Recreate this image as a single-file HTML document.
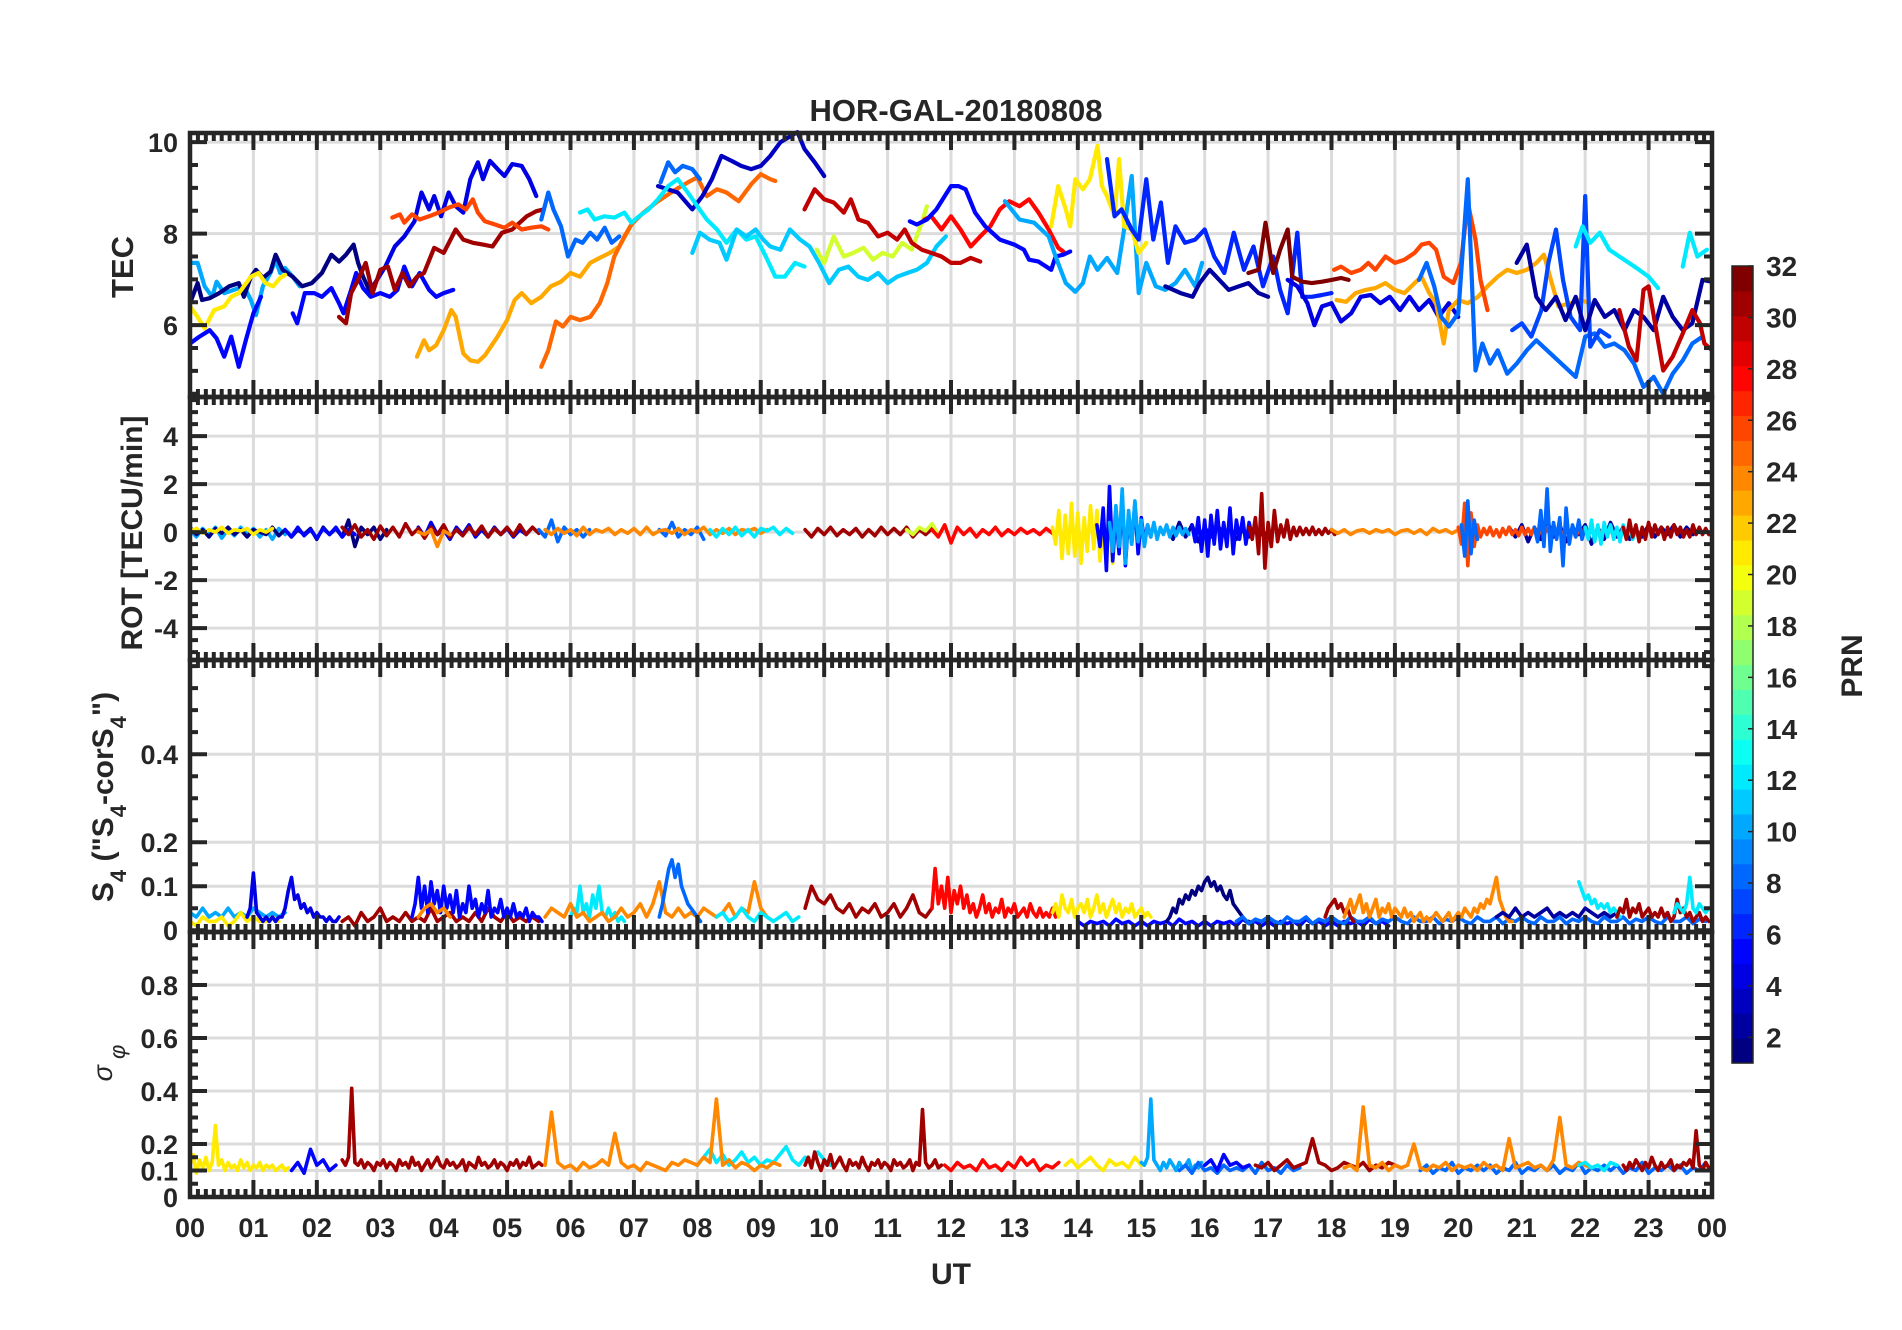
<!DOCTYPE html>
<html><head><meta charset="utf-8"><title>HOR-GAL-20180808</title>
<style>html,body{margin:0;padding:0;background:#fff;}svg{display:block;}text{font-family:"Liberation Sans",sans-serif;fill:#262626;}</style>
</head><body>
<svg id="fig" xmlns="http://www.w3.org/2000/svg" width="1902" height="1330" viewBox="0 0 1902 1330">
<rect x="0" y="0" width="1902" height="1330" fill="#fff"/>
<text x="956" y="121" font-size="31" font-weight="bold" text-anchor="middle">HOR-GAL-20180808</text>
<text x="951" y="1284" font-size="30" font-weight="bold" text-anchor="middle">UT</text>
<text transform="translate(133,267) rotate(-90)" font-size="31" font-weight="bold" text-anchor="middle">TEC</text>
<text transform="translate(142,533) rotate(-90)" font-size="30" font-weight="bold" text-anchor="middle">ROT [TECU/min]</text>
<text transform="translate(113,797) rotate(-90)" font-size="30" font-weight="bold" text-anchor="middle">S<tspan font-size="22" baseline-shift="sub">4</tspan> ("S<tspan font-size="22" baseline-shift="sub">4</tspan>-corS<tspan font-size="22" baseline-shift="sub">4</tspan>")</text>
<text transform="translate(112,1063) rotate(-90)" font-size="27" font-style="italic" text-anchor="middle">σ<tspan font-size="22" baseline-shift="sub"> φ</tspan></text>
<text transform="translate(1862,666) rotate(-90)" font-size="30" font-weight="bold" text-anchor="middle">PRN</text>
</svg>
<script>
// ---------- axis geometry ----------
const X0 = 190, X1 = 1712;
const hourLabels = ["00","01","02","03","04","05","06","07","08","09","10","11","12","13","14","15","16","17","18","19","20","21","22","23","00"];
const tecTicks = [6, 8, 10];
const rotTicks = [-4, -2, 0, 2, 4];
const s4Ticks = [0, 0.1, 0.2, 0.4];
const sigTicks = [0, 0.1, 0.2, 0.4, 0.6, 0.8];
const cbTicks = [2,4,6,8,10,12,14,16,18,20,22,24,26,28,30,32];

// ---------- TEC data (hours, TECU) ----------
const tec1_t=[0,0.12,0.23,0.35,0.42,0.54,0.69,0.85,0.96,1.04,1.15,1.27,1.35,1.42,1.5,1.62,1.73];
const tec1_v=[7.36,7.36,6.85,6.62,6.95,6.70,6.77,6.85,6.55,6.22,6.85,7.14,7.43,7.14,7.25,7.06,6.85];
const tec2_t=[0,0.12,0.19,0.31,0.46,0.62,0.77,0.85,0.96,1.04,1.15,1.27,1.35,1.46,1.62,1.77,1.92,2.08,2.23,2.35,2.46,2.58,2.65,2.73,2.85];
const tec2_v=[6.48,6.92,6.55,6.59,6.70,6.85,6.92,6.62,7.06,7.21,7.03,7.17,7.54,7.21,7.06,6.85,6.92,7.14,7.54,7.39,7.54,7.76,7.36,7.06,6.70];
const tec3_t=[2.85,3.08,3.23,3.38,3.54,3.65,3.77,3.85,3.96,4.08,4.19,4.31,4.42,4.54,4.62,4.73,4.85,4.96,5.08,5.23,5.35,5.46];
const tec3_v=[6.77,7.28,7.72,7.94,8.27,8.90,8.53,8.82,8.38,8.90,8.60,8.46,9.19,9.56,9.19,9.59,9.41,9.26,9.52,9.48,9.19,8.82];
const tec4a_t=[0,0.15,0.31,0.42,0.54,0.65,0.77,0.88,1.0,1.12];
const tec4a_v=[5.60,5.75,5.89,5.71,5.31,5.75,5.09,5.67,6.26,6.62];
const tec4b_t=[1.62,1.69,1.81,1.96,2.08,2.23,2.35,2.42,2.54,2.62,2.73,2.85,3.0,3.15,3.27,3.38,3.5,3.62,3.77,3.88,4.0,4.15];
const tec4b_v=[6.26,6.04,6.70,6.70,6.62,6.81,6.48,6.26,6.77,7.14,6.81,6.62,6.70,6.62,6.77,7.28,6.85,7.14,6.77,6.62,6.70,6.77];
const tec5_t=[0,0.12,0.23,0.38,0.54,0.65,0.77,0.85,0.96,1.08,1.19,1.31,1.42,1.5];
const tec5_v=[6.41,6.18,5.93,6.33,6.41,6.62,6.70,6.85,7.06,7.14,6.92,6.85,7.03,7.10];
const tec6_t=[2.35,2.46,2.54,2.65,2.77,2.88,3.0,3.12,3.23,3.35,3.46,3.58,3.69,3.85,4.0,4.19,4.31,4.46,4.62,4.77,4.92,5.08,5.31,5.46,5.58];
const tec6_v=[6.18,6.04,6.70,6.99,7.36,6.70,7.21,7.28,6.77,7.14,6.85,7.06,7.14,7.69,7.58,8.09,7.87,7.80,7.76,7.72,8.02,8.09,8.38,8.49,8.53];
const tec7_t=[3.19,3.31,3.38,3.5,3.62,3.77,3.92,4.08,4.23,4.35,4.46,4.54,4.65,4.81,4.96,5.08,5.23,5.38,5.54,5.65];
const tec7_v=[8.35,8.42,8.24,8.42,8.31,8.38,8.46,8.57,8.64,8.53,8.75,8.46,8.27,8.20,8.13,8.24,8.09,8.13,8.16,8.09];
const tec8_t=[3.58,3.69,3.77,3.88,4.0,4.12,4.19,4.31,4.42,4.54,4.65,4.85,5.0,5.12,5.23,5.38,5.54,5.69,5.85,6.0,6.15,6.31,6.46,6.62,6.77,6.92];
const tec8_v=[5.31,5.67,5.45,5.56,5.89,6.33,6.18,5.38,5.23,5.20,5.34,5.75,6.11,6.55,6.70,6.48,6.62,6.85,6.95,7.14,7.06,7.36,7.47,7.58,7.72,8.09];
const tec9_t=[5.54,5.65,5.77,5.88,6.0,6.15,6.31,6.46,6.58,6.69,6.85,6.96,7.15,7.38,7.62,7.85,8.0,8.15,8.31,8.46,8.65,8.85,9.0,9.15,9.23];
const tec9_v=[5.09,5.45,6.08,5.97,6.18,6.11,6.18,6.48,6.92,7.50,7.94,8.20,8.46,8.71,8.93,9.12,9.23,8.82,8.97,8.90,8.71,9.08,9.30,9.19,9.15];
const tec10a_t=[5.54,5.65,5.73,5.85,5.96,6.08,6.19,6.31,6.42,6.54,6.65,6.77];
const tec10a_v=[8.31,8.90,8.53,8.16,7.50,7.87,7.80,8.02,7.87,8.13,7.80,7.94];
const tec10b_t=[7.42,7.54,7.65,7.77,7.92,8.04];
const tec10b_v=[9.12,9.56,9.34,9.48,9.41,9.19];
const tec11_t=[7.38,7.69,7.92,8.08,8.23,8.38,8.54,8.69,8.85,9.0,9.15,9.31,9.58,9.69,9.85,10.0];
const tec11_v=[9.04,8.90,8.53,8.82,9.19,9.70,9.59,9.48,9.41,9.48,9.70,10.0,10.22,9.85,9.56,9.26];
const tec12_t=[6.15,6.27,6.38,6.54,6.69,6.85,6.96,7.08,7.23,7.38,7.54,7.69,7.85,8.0,8.15,8.31,8.46,8.62,8.77,8.92,9.08,9.23,9.38,9.54,9.69];
const tec12_v=[8.46,8.53,8.31,8.38,8.35,8.46,8.24,8.38,8.53,8.75,9.04,9.19,8.90,8.60,8.31,8.09,7.80,8.09,7.87,7.94,7.50,7.06,7.06,7.36,7.28];
const tec13_t=[7.92,8.04,8.19,8.35,8.46,8.62,8.77,8.92,9.04,9.15,9.31,9.46,9.62,9.77,9.92,10.08,10.23,10.38,10.54,10.69,10.85,11.0,11.15,11.31,11.46,11.62,11.77,11.92];
const tec13_v=[7.58,8.02,7.87,7.80,7.43,8.09,7.94,8.09,7.87,7.72,7.65,8.09,7.87,7.72,7.36,6.92,7.21,7.28,7.06,6.99,7.14,6.92,7.06,7.14,7.21,7.36,7.72,7.94];
const tec14_t=[9.88,10.0,10.15,10.31,10.46,10.62,10.77,10.92,11.08,11.23,11.38,11.54,11.62];
const tec14_v=[7.65,7.36,7.94,7.50,7.58,7.69,7.43,7.58,7.50,7.80,7.65,8.24,8.60];
const tec15_t=[9.69,9.85,10.0,10.15,10.31,10.42,10.54,10.69,10.85,11.0,11.15,11.27,11.38,11.54,11.69,11.85,12.0,12.15,12.31,12.46];
const tec15_v=[8.53,8.97,8.75,8.68,8.46,8.75,8.31,8.24,7.94,8.02,7.87,8.09,7.80,7.65,7.58,7.50,7.36,7.36,7.47,7.39];
const tec16_t=[11.58,11.69,11.85,12.0,12.15,12.31,12.46,12.62,12.77,12.92,13.08,13.23,13.38,13.54,13.69,13.77];
const tec16_v=[8.31,8.38,8.09,8.38,8.09,7.72,7.94,8.16,8.53,8.71,8.60,8.75,8.46,8.09,7.69,7.61];
const tec17_t=[11.35,11.46,11.62,11.77,12.0,12.12,12.23,12.38,12.54,12.77,13.0,13.15,13.23,13.38,13.58,13.65,13.77,13.88];
const tec17_v=[8.27,8.20,8.31,8.53,9.04,9.04,8.97,8.46,8.16,7.87,7.76,7.65,7.43,7.39,7.21,7.50,7.54,7.61];
const tec18_t=[13.58,13.69,13.81,13.88,13.96,14.08,14.19,14.31,14.38,14.46,14.58,14.65,14.73,14.85,14.96,15.08];
const tec18_v=[8.16,9.04,8.53,8.16,9.19,8.97,9.19,9.92,9.04,8.82,8.38,9.63,8.16,8.09,7.58,7.80];
const tec19_t=[12.85,13.08,13.31,13.54,13.65,13.81,13.96,14.08,14.19,14.31,14.46,14.62,14.73,14.85,14.96,15.08,15.23,15.38,15.54,15.69,15.85,15.96];
const tec19_v=[8.71,8.31,8.24,7.94,7.50,6.92,6.73,6.92,7.50,7.21,7.47,7.14,8.09,9.26,6.70,7.36,6.85,6.77,6.92,7.21,6.85,7.36];
const tec20_t=[14.46,14.58,14.69,14.85,14.96,15.08,15.19,15.31,15.42,15.54,15.69,15.85,16.0,16.15,16.31,16.46,16.62,16.77,16.92,17.08,17.19,17.31,17.46,17.54,17.69,17.85,18.0];
const tec20_v=[9.63,8.38,8.53,8.09,7.87,9.19,7.87,8.68,7.36,8.16,7.80,7.87,8.09,7.50,7.14,8.02,7.21,7.72,6.85,7.50,6.77,6.26,8.02,6.62,6.62,6.66,6.70];
const tec21_t=[15.38,15.62,15.81,15.92,16.08,16.23,16.38,16.54,16.69,16.85,17.0];
const tec21_v=[6.85,6.70,6.62,6.92,7.21,6.99,6.77,6.85,6.92,6.70,6.62];
const tec22_t=[17.31,17.46,17.62,17.73,17.85,18.0,18.15,18.31,18.46,18.62,18.77,18.92,19.08,19.23,19.38,19.54,19.69,19.85,20.0];
const tec22_v=[6.99,6.85,6.48,6.00,6.41,6.48,6.08,6.26,6.62,6.66,6.48,6.62,6.33,6.62,6.33,6.55,6.18,6.48,6.18];
const tec23_t=[16.69,16.85,16.96,17.08,17.19,17.31,17.38,17.54,17.69,17.85,18.0,18.15,18.27];
const tec23_v=[7.14,7.21,8.24,7.14,7.65,8.09,7.06,6.95,6.92,6.95,6.99,7.03,6.99];
const tec24_t=[18.04,18.15,18.31,18.46,18.58,18.69,18.85,19.0,19.15,19.31,19.42,19.54,19.65,19.77,19.92,20.04,20.15,20.27,20.35,20.46];
const tec24_v=[7.21,7.28,7.14,7.21,7.36,7.21,7.50,7.36,7.43,7.58,7.76,7.80,7.65,7.06,6.92,7.36,8.68,7.87,6.99,6.33];
const tec25_t=[18.08,18.23,18.38,18.54,18.69,18.85,19.0,19.15,19.31,19.42,19.54,19.65,19.77,19.85,20.0,20.15,20.31,20.46,20.62,20.77,20.92,21.08,21.23,21.35,21.46,21.58,21.77,21.92,22.08];
const tec25_v=[6.55,6.51,6.70,6.77,6.81,6.92,6.77,6.70,6.92,7.06,6.70,6.48,5.60,6.33,6.55,6.48,6.62,6.85,7.06,7.21,7.14,7.21,7.36,7.54,6.99,6.41,6.48,6.55,6.48];
const tec26_t=[19.38,19.5,19.62,19.73,19.85,20.0,20.15,20.27,20.38,20.5,20.62,20.77,20.92,21.08,21.23,21.85,22.0,22.15,22.31,22.46,22.62,22.77,22.92,23.08,23.23,23.38,23.54,23.69,23.85];
const tec26_v=[6.99,7.36,6.85,6.18,5.97,6.26,9.19,5.01,5.60,5.16,5.45,4.94,5.16,5.45,5.67,4.87,5.75,5.82,5.53,5.60,5.45,5.16,4.65,4.87,4.50,4.94,5.23,5.60,5.75];
const tec27_t=[20.85,21.0,21.15,21.31,21.42,21.54,21.65,21.77,21.92,22.0,22.08,22.23,22.38];
const tec27_v=[5.89,6.04,5.75,6.33,7.36,8.09,6.99,6.18,5.89,8.82,5.53,5.89,5.75];
const tec28_t=[20.92,21.08,21.23,21.38,21.54,21.69,21.85,22.0,22.15,22.31,22.46,22.62,22.77,22.92,23.08,23.23,23.38,23.54,23.69,23.85,24.0];
const tec28_v=[7.36,7.76,6.62,6.33,6.62,6.11,6.62,5.89,6.55,6.18,6.33,5.89,6.33,6.18,5.89,6.62,6.18,5.89,6.04,6.99,6.95];
const tec29a_t=[21.85,21.96,22.08,22.23,22.38,22.54,22.69,22.85,23.0,23.15];
const tec29a_v=[7.72,8.16,7.80,8.02,7.65,7.50,7.36,7.21,7.06,6.81];
const tec29b_t=[23.54,23.65,23.77,23.92];
const tec29b_v=[7.28,8.02,7.50,7.65];
const tec30_t=[22.54,22.69,22.81,22.92,23.0,23.12,23.23,23.38,23.54,23.69,23.81,23.88,24.0];
const tec30_v=[6.33,5.53,5.23,6.77,6.85,5.89,5.01,5.31,5.82,6.33,6.04,5.60,5.45];

// ---------- ROT data (start hour, step hour, TECU/min) ----------
const rotA=[0.1,-0.2,0.15,-0.1,0.2,-0.25,0.1,-0.15,0.2,-0.1,0.15,-0.2,0.1,-0.3,0.15,-0.1];
const rotB=[0.05,0.15,-0.05,0.1,0,0.2,-0.05,0.1,0.05,0.15,-0.1,0.1,0,0.15];
const rotC=[0.2,-0.1,0.1,-0.2,0.15,-0.05,0.2,-0.1,0.1,-0.2,0.1,0,-0.1,0.2,-0.15,0.1,-0.2,0.1,-0.1,0.15,-0.3,0.2,-0.1,0.15,-0.2,0.5,-0.6,0.2,-0.1,0.2,-0.3,0.1];
const rotD=[0.1,-0.2,0.2,-0.15,0.1,-0.25,0.15,-0.1,0.2,-0.2,0.1,-0.1];
const rotE=[0.2,-0.1,0.3,-0.2,0.1,-0.3,0.25,-0.15,0.2,-0.2,0.35,-0.1,0.15,-0.25,0.2,-0.1,0.3,-0.2,0.1,-0.15,0.2,-0.1,0.25,-0.2,0.15,-0.1,0.2,-0.15,0.3,-0.1,0.2,-0.05];
const rotF=[0.2,-0.2,0.4,-0.1,0.1,-0.3,0.2,-0.1,0.3,-0.2,0.1,-0.2,0.2,-0.1,0.15,-0.2,0.1,-0.1,0.2];
const rotG1=[0,-0.1,0.1,-0.6,0.05,-0.1];
const rotG2=[0.1,-0.1,0.15,-0.05,0.1,-0.15,0.2,-0.1,0.1,0,0.15,-0.1,0.1,-0.05,0.15,-0.1,0.2,-0.1,0.05,0.1,-0.05,0.15,-0.1,0.1,0,0.2,-0.1,0.1,-0.05,0.15,-0.1,0.1,0.05,0.15,-0.05,0.1];
const rotH1=[0.1,-0.2,0.5,-0.4,0.2,-0.1,0.1,-0.2,0.1];
const rotH2=[0.1,-0.15,0.4,-0.2,0.1,-0.1,0.2,-0.3];
const rotI=[0.1,-0.2,0.15,-0.1,0.2,-0.15,0.1,-0.2,0.15,0.05,0.2,-0.1,0.15,-0.05];
const rotJ=[0.1,-0.2,0.15,-0.1,0.2,-0.15,0.1,-0.1,0.15,-0.2,0.1,-0.15,0.2,-0.1,0.15,-0.1,0.2,-0.2,0.1,-0.1,0.15];
const rotK=[0.1,-0.1,0.2,0.05,0.35,-0.1];
const rotL=[0.1,-0.2,0.3,-0.45,0.2,-0.1,0.15,-0.2,0.1,-0.1,0.2,-0.15,0.1,-0.1,0.15,-0.05,0.1,-0.1,0.15,-0.05];
const rotM=[0.2,-0.5,0.9,-1.1,0.7,-0.9,1.2,-1.0,0.8,-1.3,0.6,-0.8,1.1,-0.7,0.9,-1.2,0.5,-0.6,0.8,-1.3,1.0,-0.5,0.6,-0.3,0.4,-0.2];
const rotN=[0.3,-0.6,1.0,-1.6,1.9,-1.2,0.8,-0.9,1.5,-1.4,0.7,-0.5,1.2,-0.9,0.6,-0.4,0.3,-0.2];
const rotO=[0.4,-0.8,1.1,-0.6,1.8,-1.3,0.9,-0.5,1.3,-0.4,0.5,-0.6,0.3,-0.2,0.4,-0.3,0.2,-0.1,0.3,-0.2,0.2,-0.15,0.2,-0.1,0.15,-0.1];
const rotP=[0.3,-0.4,0.6,-0.8,0.5,-1.0,0.7,-0.5,0.9,-0.7,0.4,-0.6,1.0,-0.9,0.5,-0.3,0.6,-0.5,0.4,-0.2,0.3,-0.3,0.2,-0.1];
const rotQ=[0.2,-0.3,0.6,-0.9,1.6,-1.5,0.4,-0.6,0.9,-0.4,0.3,-0.2,0.5,-0.3,0.2,-0.15,0.2,-0.1,0.15,-0.1,0.2,-0.1,0.1,-0.1,0.15,-0.05,0.1,-0.1];
const rotR=[0.1,-0.05,0.1,-0.1,0.05,0.1,-0.05,0.1,0,0.1,-0.1,0.05,0.1,-0.05,0.1,-0.1,0.15,0,0.1,-0.05,0.1];
const rotS=[0.2,-0.5,1.2,-1.4,0.8,-0.6,0.3,-0.2,0.15,-0.1,0.2,-0.15,0.1,-0.2,0.15,-0.1,0.2,-0.1,0.1,-0.15,0.2,-0.1,0.15,-0.1,0.2,-0.2,0.1,-0.1,0.15,-0.1,0.2,-0.15,0.1,-0.1,0.2,-0.1,0.15,-0.2,0.1,-0.1,0.2,-0.15,0.1,-0.1,0.15,-0.1,0.2,-0.1,0.1,-0.05];
const rotT1=[0.3,-1.0,1.3,-0.9,0.5,-0.3];
const rotT2=[0.2,-0.4,0.9,-0.6,1.8,-0.8,0.4,-0.3,0.6,-1.4,1.0,-0.5,0.3,-0.2,0.5,-0.3,0.2,-0.1];
const rotU=[0.2,-0.3,0.5,-0.4,0.3,-0.5,0.4,-0.2,0.3,-0.3,0.2,-0.4,0.3,-0.2,0.2,-0.3,0.1,-0.1];
const rotV=[0.2,-0.3,0.5,-0.2,0.3,-0.4,0.2,-0.3,0.4,-0.2,0.3,-0.1,0.2,-0.3,0.2,-0.2,0.3,-0.1,0.2,-0.2,0.1,-0.2,0.3,-0.1,0.2,-0.1,0.15,-0.1];
const rotW1=[0.2,-0.3,0.4,-0.2,0.3,-0.4,0.2,-0.2,0.3,-0.1,0.2,-0.3,0.1,-0.2,0.2,-0.1];
const rotW2=[0.2,-0.2,0.3,-0.4,0.2,-0.3,0.5,-0.2,0.3,-0.4,0.2,-0.1,0.3,-0.5,0.2,-0.3,0.4,-0.2,0.2,-0.3,0.1,-0.2,0.3,-0.2,0.2,-0.1,0.3,-0.2,0.2,-0.1];

// ---------- S4 data ----------
const s4A=[0.04,0.03,0.05,0.03,0.04,0.03,0.05,0.03,0.04,0.03,0.05,0.04,0.03,0.04,0.03,0.04];
const s4B=[0.02,0.01,0.03,0.02,0.02,0.03,0.01,0.02,0.04,0.02,0.03,0.02,0.02,0.03,0.02];
const s4C=[0.03,0.05,0.13,0.04,0.03,0.02,0.03,0.02,0.03,0.02,0.03,0.03,0.05,0.09,0.12,0.07,0.08,0.05,0.06,0.04,0.05,0.03,0.04,0.03,0.03,0.02,0.03,0.02,0.02,0.03];
const s4D=[0.03,0.06,0.12,0.05,0.1,0.04,0.11,0.06,0.09,0.04,0.1,0.05,0.08,0.04,0.09,0.03,0.06,0.04,0.1,0.05,0.07,0.03,0.06,0.04,0.09,0.03,0.05,0.04,0.07,0.03,0.05,0.03,0.06,0.03,0.04,0.03,0.05,0.02,0.04,0.03,0.03,0.02];
const s4E=[0.02,0.03,0.01,0.04,0.02,0.03,0.05,0.02,0.03,0.02,0.04,0.02,0.03,0.02,0.05,0.02,0.03,0.04,0.02,0.03,0.02,0.04,0.02,0.05,0.03,0.02,0.04,0.02,0.03,0.02,0.03,0.02];
const s4F1=[0.03,0.05,0.06,0.04,0.05,0.03];
const s4F2=[0.03,0.05,0.04,0.03,0.06,0.03,0.04,0.02,0.03,0.04,0.02,0.03,0.05,0.03,0.04,0.06,0.03,0.06,0.11,0.04,0.03,0.05,0.03,0.04,0.03,0.05,0.04,0.03,0.04,0.06,0.03,0.05,0.04,0.11,0.05,0.03,0.02];
const s4G1=[0.03,0.05,0.04,0.1,0.04,0.06,0.03,0.08,0.05,0.1,0.04,0.03,0.05,0.03,0.04,0.02,0.03,0.02];
const s4G2=[0.03,0.04,0.02,0.03,0.05,0.03,0.02,0.04,0.03,0.02,0.03,0.04,0.02,0.03];
const s4H=[0.03,0.06,0.1,0.14,0.16,0.12,0.15,0.1,0.08,0.06,0.05,0.04,0.03,0.02];
const s4I=[0.05,0.1,0.07,0.06,0.08,0.05,0.04,0.06,0.03,0.05,0.04,0.06,0.03,0.04,0.06,0.03,0.05,0.08,0.04,0.03,0.05];
const s4J=[0.05,0.14,0.06,0.1,0.05,0.12,0.04,0.09,0.06,0.1,0.05,0.08,0.04,0.06,0.03,0.05,0.08,0.04,0.06,0.03,0.05,0.04,0.07,0.03,0.05,0.04,0.06,0.03,0.04,0.05,0.03,0.06,0.04,0.03,0.05,0.03,0.04,0.03,0.05,0.03];
const s4K=[0.04,0.06,0.03,0.08,0.05,0.04,0.07,0.03,0.05,0.06,0.04,0.07,0.03,0.05,0.08,0.04,0.06,0.03,0.05,0.07,0.04,0.06,0.03,0.05,0.04,0.06,0.03,0.04,0.05,0.03,0.04,0.03];
const s4L=[0.02,0.03,0.05,0.04,0.07,0.06,0.08,0.07,0.09,0.08,0.1,0.09,0.11,0.12,0.1,0.11,0.09,0.1,0.08,0.07,0.09,0.06,0.05,0.04,0.03,0.02,0.02,0.01];
const s4M=[0.02,0.01,0.02,0.015,0.02,0.01,0.025,0.015,0.02,0.01,0.02,0.01,0.02,0.015,0.02,0.01,0.025,0.015,0.02,0.01,0.02,0.01,0.02,0.015,0.02,0.01,0.025,0.015,0.02,0.01,0.02,0.01,0.02,0.015,0.02,0.01,0.025,0.015,0.02,0.01,0.02,0.01,0.02,0.015,0.02,0.01,0.025,0.015,0.02,0.01];
const s4N=[0.03,0.05,0.06,0.07,0.05,0.06,0.04,0.05,0.03,0.02];
const s4O=[0.03,0.05,0.07,0.04,0.06,0.08,0.04,0.06,0.03,0.05,0.07,0.03,0.05,0.04,0.06,0.03,0.05,0.04,0.03,0.05,0.03,0.04,0.02,0.03,0.04,0.02,0.03,0.02,0.03,0.04,0.03,0.02,0.03,0.04,0.02,0.03,0.04,0.03,0.05,0.04,0.03,0.05,0.04,0.06,0.05,0.07,0.06,0.09,0.12,0.07,0.05,0.03,0.02,0.02];
const s4P=[0.02,0.03,0.015,0.025,0.02,0.03,0.02,0.015,0.03,0.02,0.02,0.03,0.015,0.025,0.02,0.03,0.02,0.015,0.03,0.02,0.02,0.03,0.015,0.025,0.02,0.03,0.02,0.015,0.03,0.02,0.02,0.03,0.015,0.025,0.02,0.03,0.02,0.015,0.03,0.02,0.02,0.03,0.015,0.025,0.02,0.03,0.02,0.015,0.03,0.02,0.02,0.03,0.015,0.025,0.02,0.03,0.02,0.015,0.03,0.02,0.02,0.03,0.015,0.025,0.02,0.03,0.02,0.015,0.03,0.02,0.02,0.03,0.015,0.025,0.02];
const s4Q1=[0.11,0.09,0.07,0.08,0.06,0.07,0.05,0.06,0.05,0.06,0.04,0.05,0.04,0.03];
const s4Q2=[0.04,0.06,0.05,0.04,0.06,0.12,0.05,0.04,0.06,0.05,0.04,0.05];
const s4R=[0.03,0.05,0.04,0.07,0.03,0.05,0.04,0.06,0.03,0.04,0.05,0.03,0.04,0.03,0.05,0.03,0.04,0.02,0.03,0.07,0.04,0.05,0.03,0.04,0.02,0.03,0.04,0.02,0.03,0.02];
const s4S=[0.03,0.04,0.03,0.05,0.03,0.04,0.03,0.04,0.05,0.03,0.04,0.03,0.04,0.03,0.05,0.04,0.03,0.04,0.03,0.04];

// ---------- sigma-phi data ----------
const sgA=[0.12,0.16,0.09,0.14,0.11,0.15,0.1,0.13,0.27,0.12,0.14,0.1,0.13,0.11,0.12,0.1,0.14,0.11,0.13,0.1,0.12,0.11,0.13,0.1,0.12,0.11,0.12,0.1,0.11,0.12,0.1,0.11];
const sgB=[0.1,0.13,0.09,0.18,0.12,0.14,0.1,0.12];
const sgC=[0.14,0.12,0.15,0.41,0.13,0.12,0.14,0.11,0.13,0.12,0.1,0.13,0.12,0.14,0.11,0.13,0.12,0.1,0.14,0.12,0.13,0.11,0.15,0.12,0.13,0.1,0.12,0.14,0.11,0.13,0.15,0.12,0.11,0.14,0.12,0.13,0.11,0.12,0.14,0.1,0.13,0.12,0.11,0.15,0.12,0.13,0.11,0.12,0.14,0.11,0.13,0.12,0.1,0.13,0.12,0.14,0.11,0.13,0.12,0.15,0.11,0.12,0.13,0.12];
const sgD=[0.12,0.32,0.13,0.11,0.12,0.1,0.13,0.11,0.12,0.14,0.12,0.24,0.13,0.11,0.12,0.1,0.13,0.12,0.11,0.1,0.13,0.12,0.14,0.13,0.12,0.15,0.13,0.37,0.12,0.14,0.11,0.13,0.12,0.1,0.12,0.11,0.13,0.12];
const sgE=[0.12,0.15,0.18,0.13,0.16,0.12,0.14,0.17,0.13,0.15,0.12,0.14,0.13,0.16,0.19,0.14,0.12,0.15,0.13,0.17,0.14,0.12];
const sgF=[0.12,0.15,0.11,0.17,0.13,0.1,0.14,0.12,0.16,0.11,0.13,0.15,0.12,0.1,0.14,0.12,0.13,0.11,0.15,0.12,0.1,0.13,0.12,0.14,0.11,0.13,0.12,0.1,0.14,0.12,0.13,0.11,0.12,0.14,0.1,0.13,0.12,0.33,0.13,0.11,0.12,0.14,0.11,0.12];
const sgG=[0.12,0.1,0.13,0.11,0.12,0.1,0.14,0.11,0.12,0.1,0.13,0.11,0.15,0.12,0.14,0.1,0.12,0.11,0.13];
const sgH=[0.12,0.14,0.11,0.13,0.15,0.12,0.1,0.14,0.12,0.13,0.11,0.15,0.12];
const sgI=[0.13,0.12,0.15,0.37,0.14,0.12,0.1,0.13,0.11,0.14,0.12,0.1,0.13,0.11,0.12,0.14,0.1,0.12,0.11,0.13];
const sgJ=[0.12,0.14,0.1,0.16,0.12,0.13,0.11,0.12];
const sgK=[0.12,0.11,0.13,0.1,0.12,0.14,0.11,0.12,0.13,0.22,0.13,0.12,0.1,0.11,0.13,0.12,0.11,0.13,0.1,0.12,0.11,0.13,0.12,0.11];
const sgL=[0.11,0.12,0.1,0.34,0.12,0.11,0.13,0.1,0.12,0.11,0.12,0.2,0.11,0.1,0.12,0.11,0.13,0.1,0.12,0.11,0.12,0.1,0.13,0.11,0.12,0.1,0.22,0.11,0.12,0.13,0.11,0.12,0.1,0.14,0.3,0.12,0.11,0.13,0.12,0.11];
const sgM=[0.12,0.13,0.11,0.12,0.1,0.13,0.12];
const sgN=[0.12,0.1,0.13,0.11,0.14,0.12,0.1,0.13,0.11,0.15,0.12,0.1,0.13,0.11,0.12,0.14,0.1,0.12,0.11,0.13,0.12,0.14,0.11,0.25,0.12,0.1,0.13,0.11];
const sgO1=[0.1,0.12,0.09,0.13,0.1,0.11,0.09,0.12,0.1,0.11,0.1,0.12,0.09,0.13,0.1,0.11,0.09,0.12,0.1,0.11];
const sgO2=[0.1,0.12,0.09,0.11,0.1,0.13,0.09,0.11,0.1,0.12,0.1,0.12,0.09,0.11,0.1,0.13,0.09,0.11,0.1,0.12,0.1,0.12,0.09,0.11,0.1,0.13,0.09,0.11,0.1,0.12,0.1,0.12,0.09,0.11,0.1,0.13,0.09,0.11,0.1,0.12,0.1,0.12,0.09,0.11,0.1,0.13];

// ---------- rendering ----------
const NS = "http://www.w3.org/2000/svg";
const svg = document.getElementById("fig");
const panels = {
  tec: {top:133, bot:397, min:4.43, max:10.2},
  rot: {top:397, bot:660, min:-5.33, max:5.63},
  s4:  {top:660, bot:932, min:-0.004, max:0.614},
  sig: {top:932, bot:1197, min:0, max:1.0}
};
function xOf(h){ return X0 + h/24*(X1-X0); }
function yOf(p, v){ return p.bot - (v-p.min)/(p.max-p.min)*(p.bot-p.top); }
function clamp(a){ return Math.max(0, Math.min(1, a)); }
function jet(prn){
  const v = (prn-1)/31;
  const r = clamp(1.5-Math.abs(4*v-3)), g = clamp(1.5-Math.abs(4*v-2)), b = clamp(1.5-Math.abs(4*v-1));
  return "rgb("+Math.round(r*255)+","+Math.round(g*255)+","+Math.round(b*255)+")";
}
function mk(tag, attrs, parent){
  const el = document.createElementNS(NS, tag);
  for (const k in attrs) el.setAttribute(k, attrs[k]);
  (parent||svg).appendChild(el);
  return el;
}
const gridG = mk("g", {});


const dataG = mk("g", {"stroke-linejoin":"round","stroke-linecap":"round"});


const axG = mk("g", {});



function panelSetup(key, ticks, minorStep){
  const p = panels[key];
  for (let h=1; h<24; h++){
    const l = mk("line", {x1:xOf(h), x2:xOf(h), y1:p.top, y2:p.bot, stroke:"#dcdcdc", "stroke-width":3}, gridG);
    
    
  }
  ticks.forEach(v => {
    const y = yOf(p, v);
    if (y > p.top+3 && y < p.bot-3){
      const l = mk("line", {x1:X0, x2:X1, y1:y, y2:y, stroke:"#dcdcdc", "stroke-width":3}, gridG);
      
      
    }
  });
}
function panelAxes(key, ticks, minorStep, fmt){
  const p = panels[key];
  let d = "";
  for (let k=0; k<=24*8; k++){
    const x = xOf(k/8); const L = (k%8===0)?17:8;
    d += "M"+x+" "+p.top+"V"+(p.top+L)+"M"+x+" "+p.bot+"V"+(p.bot-L);
  }
  const n0 = Math.ceil(p.min/minorStep-1e-6), n1 = Math.floor(p.max/minorStep+1e-6);
  for (let n=n0; n<=n1; n++){
    const v = n*minorStep; const y = yOf(p, v);
    const major = ticks.some(t => Math.abs(t-v) < 1e-6);
    const L = major?17:8;
    d += "M"+X0+" "+y+"H"+(X0+L)+"M"+X1+" "+y+"H"+(X1-L);
  }
  const t = mk("path", {d:d, stroke:"#262626", "stroke-width":4, fill:"none"}, axG);
  
  
  const r = mk("rect", {x:X0, y:p.top, width:X1-X0, height:p.bot-p.top, fill:"none", stroke:"#262626", "stroke-width":4.5}, axG);
  
  
  ticks.forEach(v => {
    const tx = mk("text", {x:178, y:yOf(p, v)+10, "font-size":27, "font-weight":"bold", "text-anchor":"end"}, axG);
    tx.textContent = fmt(v);
    
    
  });
}
function tecLine(prn, ts, vs){
  const p = panels.tec;
  const pts = ts.map((t,i) => xOf(t).toFixed(1)+","+yOf(p, vs[i]).toFixed(1)).join(" ");
  const l = mk("polyline", {points:pts, fill:"none", stroke:jet(prn), "stroke-width":4.2}, dataG);
  
  
}
function stepLine(key, prn, t0, dt, vs, w){
  const p = panels[key];
  const pts = vs.map((v,i) => xOf(t0+i*dt).toFixed(1)+","+yOf(p, v).toFixed(1)).join(" ");
  const l = mk("polyline", {points:pts, fill:"none", stroke:jet(prn), "stroke-width":w||3.6}, dataG);
  
  
}

panelSetup("tec", tecTicks, 0.5);
panelSetup("rot", rotTicks, 0.5);
panelSetup("s4", s4Ticks, 0.05);
panelSetup("sig", sigTicks, 0.05);

// TEC
tecLine(10,tec1_t,tec1_v); tecLine(1,tec2_t,tec2_v); tecLine(4,tec3_t,tec3_v);
tecLine(5,tec4a_t,tec4a_v); tecLine(5,tec4b_t,tec4b_v); tecLine(21,tec5_t,tec5_v);
tecLine(31,tec6_t,tec6_v); tecLine(26,tec7_t,tec7_v); tecLine(23,tec8_t,tec8_v);
tecLine(25,tec9_t,tec9_v); tecLine(8,tec10a_t,tec10a_v); tecLine(8,tec10b_t,tec10b_v);
tecLine(3,tec11_t,tec11_v); tecLine(12,tec12_t,tec12_v); tecLine(11,tec13_t,tec13_v);
tecLine(19,tec14_t,tec14_v); tecLine(30,tec15_t,tec15_v); tecLine(28,tec16_t,tec16_v);
tecLine(5,tec17_t,tec17_v); tecLine(10,tec19_t,tec19_v); tecLine(21,tec18_t,tec18_v);
tecLine(6,tec20_t,tec20_v); tecLine(2,tec21_t,tec21_v); tecLine(4,tec22_t,tec22_v);
tecLine(32,tec23_t,tec23_v); tecLine(23,tec25_t,tec25_v); tecLine(26,tec24_t,tec24_v);
tecLine(8,tec26_t,tec26_v); tecLine(7,tec27_t,tec27_v); tecLine(2,tec28_t,tec28_v);
tecLine(12,tec29a_t,tec29a_v); tecLine(12,tec29b_t,tec29b_v); tecLine(30,tec30_t,tec30_v);

// ROT
stepLine("rot",10,0,0.1,rotA); stepLine("rot",1,0,0.1,rotC); stepLine("rot",21,0,0.1,rotB);
stepLine("rot",5,1.5,0.1,rotD); stepLine("rot",4,3.6,0.1,rotF); stepLine("rot",31,2.4,0.1,rotE);
stepLine("rot",24,3.6,0.1,rotG1); stepLine("rot",8,5.5,0.1,rotH1); stepLine("rot",8,7.4,0.1,rotH2);
stepLine("rot",24,5.6,0.1,rotG2); stepLine("rot",12,8.2,0.1,rotI); stepLine("rot",31,9.7,0.1,rotJ);
stepLine("rot",19,11.3,0.1,rotK); stepLine("rot",28,11.7,0.1,rotL);
stepLine("rot",2,15.4,0.1,rotW1); stepLine("rot",21,13.6,0.05,rotM); stepLine("rot",5,14.3,0.05,rotN);
stepLine("rot",10,14.5,0.05,rotO); stepLine("rot",5,15.8,0.05,rotP); stepLine("rot",31,16.7,0.05,rotQ);
stepLine("rot",24,18.0,0.1,rotR); stepLine("rot",2,20.8,0.1,rotW2); stepLine("rot",26,20.0,0.05,rotS);
stepLine("rot",8,20.05,0.05,rotT1); stepLine("rot",8,21.2,0.05,rotT2); stepLine("rot",12,22.0,0.05,rotU);
stepLine("rot",31,22.6,0.05,rotV);

// S4
stepLine("s4",10,0,0.1,s4A); stepLine("s4",21,0,0.1,s4B); stepLine("s4",4,0.9,0.05,s4C);
stepLine("s4",31,2.4,0.1,s4E); stepLine("s4",5,3.5,0.05,s4D); stepLine("s4",24,3.6,0.1,s4F1);
stepLine("s4",12,6.0,0.05,s4G1); stepLine("s4",24,5.6,0.1,s4F2); stepLine("s4",8,7.4,0.05,s4H);
stepLine("s4",12,8.3,0.1,s4G2); stepLine("s4",31,9.7,0.1,s4I); stepLine("s4",28,11.7,0.05,s4J);
stepLine("s4",5,14.0,0.1,s4M); stepLine("s4",21,13.6,0.05,s4K); stepLine("s4",1,15.4,0.05,s4L);
stepLine("s4",8,16.5,0.1,s4P); stepLine("s4",31,17.9,0.05,s4N); stepLine("s4",24,18.2,0.05,s4O);
stepLine("s4",2,20.6,0.1,s4S); stepLine("s4",12,21.9,0.05,s4Q1); stepLine("s4",31,22.5,0.05,s4R);
stepLine("s4",12,23.4,0.05,s4Q2);

// sigma phi
stepLine("sig",21,0,0.05,sgA); stepLine("sig",5,1.6,0.1,sgB); stepLine("sig",31,2.4,0.05,sgC);
stepLine("sig",12,8.0,0.1,sgE); stepLine("sig",24,5.6,0.1,sgD); stepLine("sig",31,9.7,0.05,sgF);
stepLine("sig",28,11.9,0.1,sgG); stepLine("sig",21,13.8,0.1,sgH); stepLine("sig",10,15.0,0.05,sgI);
stepLine("sig",8,15.6,0.1,sgO1); stepLine("sig",5,16.0,0.1,sgJ); stepLine("sig",8,19.4,0.1,sgO2);
stepLine("sig",31,16.8,0.1,sgK); stepLine("sig",24,18.2,0.1,sgL); stepLine("sig",12,21.9,0.1,sgM);
stepLine("sig",31,22.6,0.05,sgN);

panelAxes("tec", tecTicks, 0.5, v => String(v));
panelAxes("rot", rotTicks, 0.5, v => String(v));
panelAxes("s4", s4Ticks, 0.05, v => String(v));
panelAxes("sig", sigTicks, 0.05, v => String(v));

// x tick labels
hourLabels.forEach((lab, i) => {
  const t = mk("text", {x:xOf(i), y:1237, "font-size":27, "font-weight":"bold", "text-anchor":"middle"}, axG);
  t.textContent = lab;
  
  
});

// colorbar
const cbTop = 266, cbBot = 1063, cbX = 1732, cbW = 21;
const cbG = mk("g", {});


const cbStep = (cbBot-cbTop)/32;
for (let k=1; k<=32; k++){
  const r = mk("rect", {x:cbX, y:cbBot-k*cbStep, width:cbW, height:cbStep+0.6, fill:jet(k)}, cbG);
  
  
}
const cbFrame = mk("rect", {x:cbX, y:cbTop, width:cbW, height:cbBot-cbTop, fill:"none", stroke:"#262626", "stroke-width":1.5}, cbG);


function cbY(v){ return cbBot - (v-1)/31*(cbBot-cbTop); }
cbTicks.forEach(v => {
  const y = cbY(v);
  const tk = mk("line", {x1:cbX+cbW-5, x2:cbX+cbW, y1:y, y2:y, stroke:"#262626", "stroke-width":1.5}, cbG);
  
  
  const t = mk("text", {x:1766, y:y+10, "font-size":28, "font-weight":"bold"}, cbG);
  t.textContent = String(v);
  
  
});
</script>
</body></html>
